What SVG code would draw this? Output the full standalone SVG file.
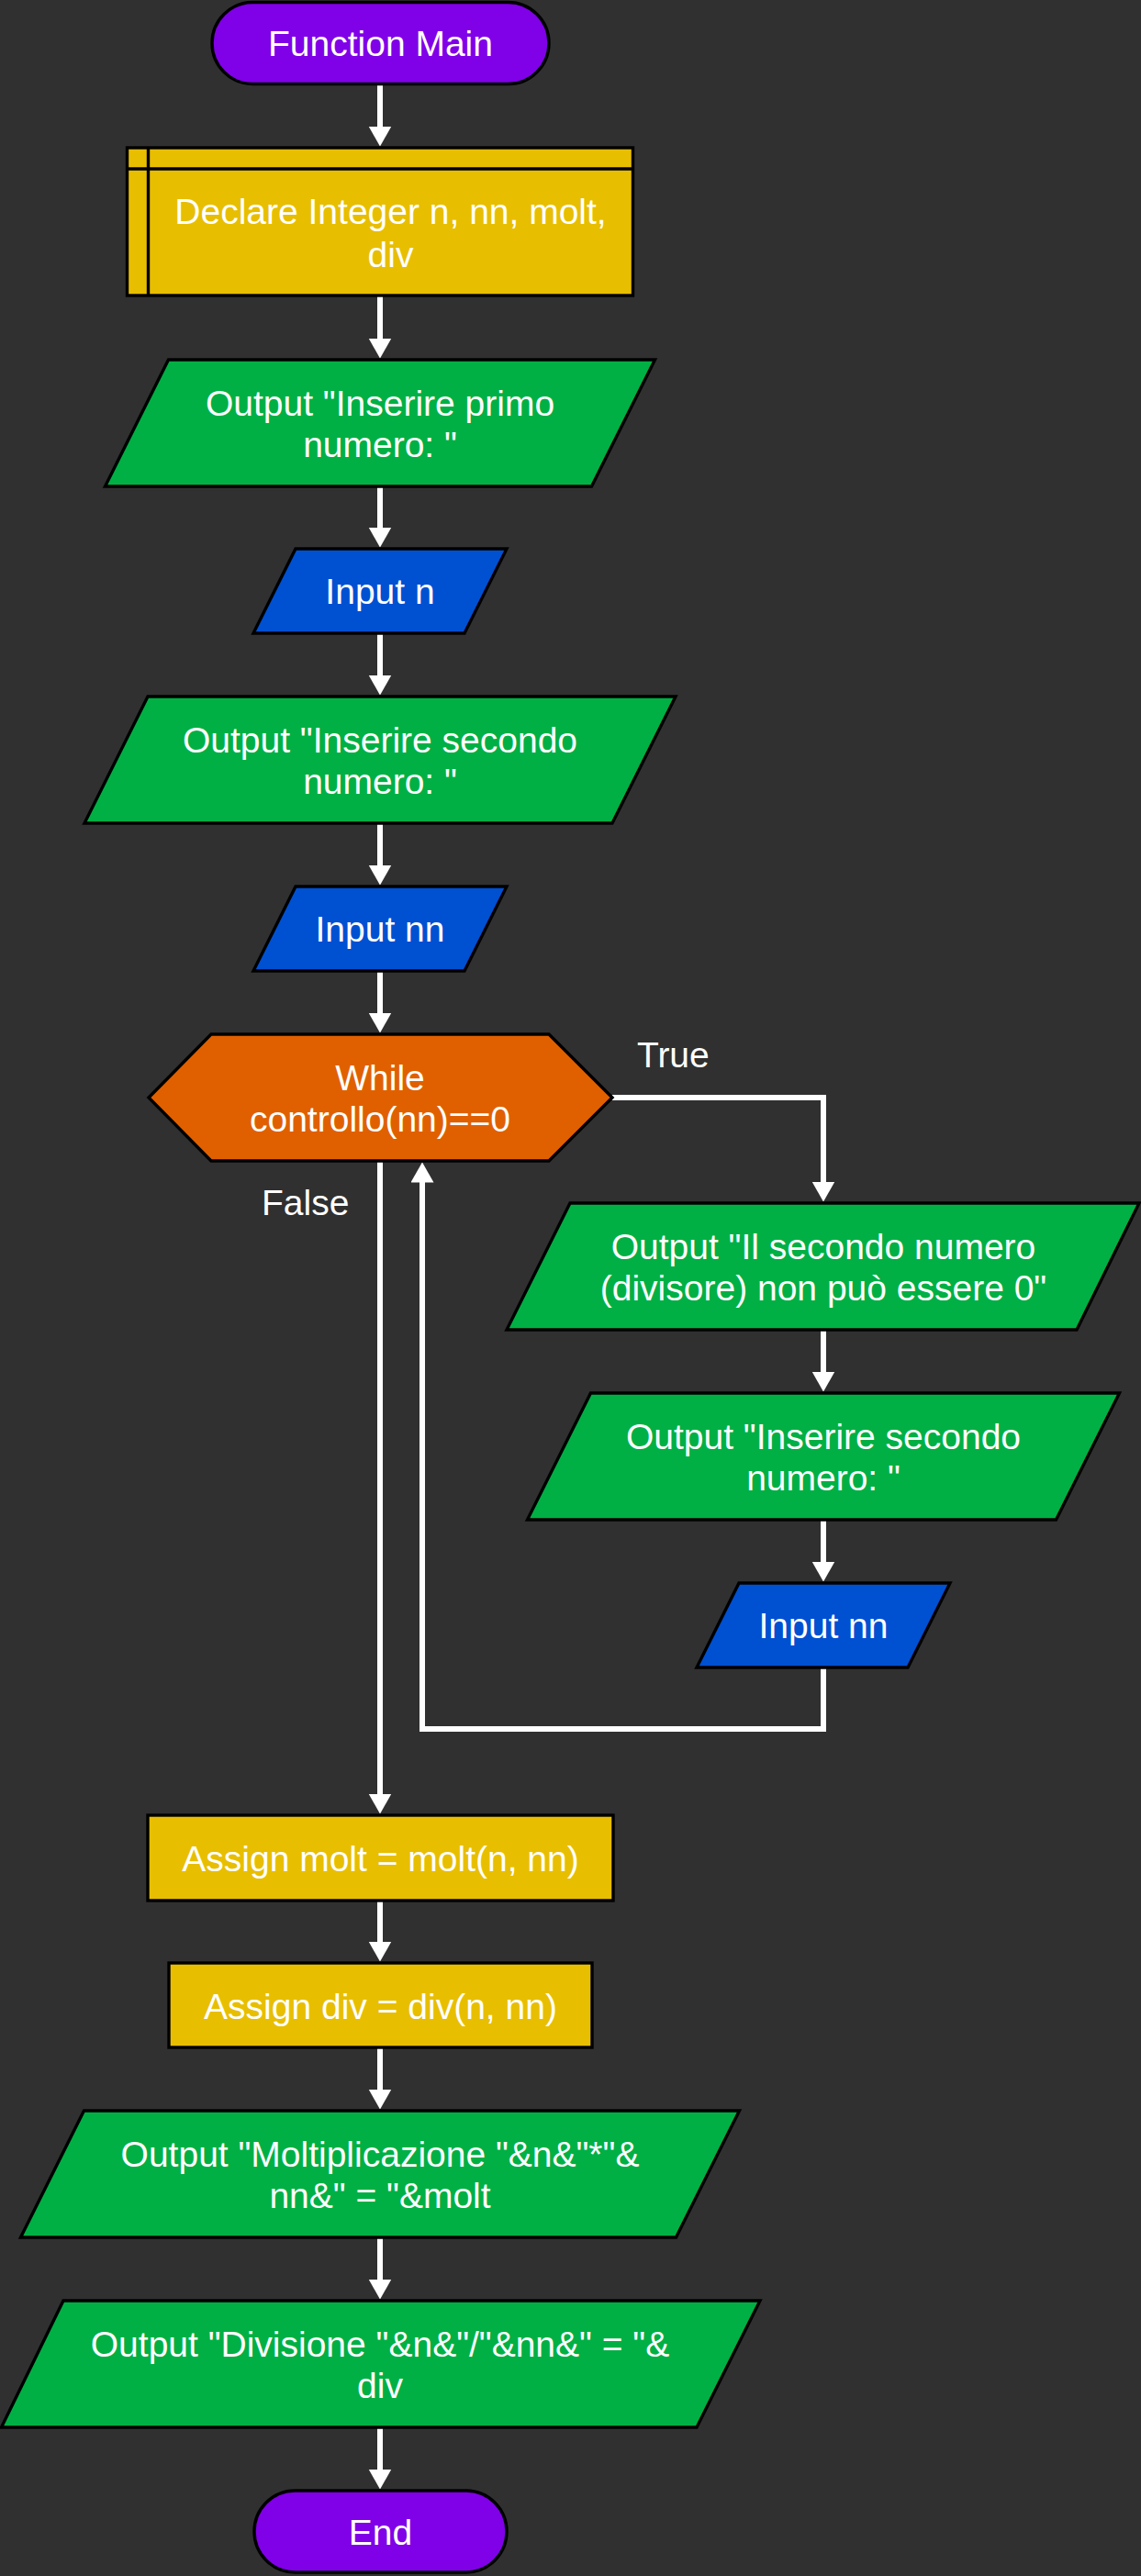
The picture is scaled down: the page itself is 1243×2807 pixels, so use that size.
<svg xmlns="http://www.w3.org/2000/svg" width="1243" height="2807" viewBox="0 0 1243 2807">
<defs>
<style>
.n{stroke:#000;stroke-width:3.4;stroke-linejoin:miter}
.term{fill:#8000E8}
.proc{fill:#E8BE00}
.out{fill:#00B044}
.inp{fill:#0050D2}
.loop{fill:#E06000}
text{font-family:"Liberation Sans",Arial,sans-serif;font-size:39px;fill:#fff}
.c{text-anchor:middle}
.e{fill:none;stroke:#fff;stroke-width:6}
</style>
<marker id="ah" markerUnits="userSpaceOnUse" markerWidth="24" markerHeight="26" refX="12" refY="12.5" orient="auto">
<path d="M0,0 L22,12.5 L0,25 z" fill="#fff"/>
</marker>
</defs>
<rect width="1243" height="2807" fill="#303030"/>
<g id="connectors">
<line class="e" x1="414" y1="92" x2="414" y2="149.5" marker-end="url(#ah)"/>
<line class="e" x1="414" y1="322" x2="414" y2="380.5" marker-end="url(#ah)"/>
<line class="e" x1="414" y1="530" x2="414" y2="586.5" marker-end="url(#ah)"/>
<line class="e" x1="414" y1="690" x2="414" y2="747.5" marker-end="url(#ah)"/>
<line class="e" x1="414" y1="897" x2="414" y2="954.5" marker-end="url(#ah)"/>
<line class="e" x1="414" y1="1058" x2="414" y2="1115.5" marker-end="url(#ah)"/>
<polyline class="e" points="667,1196 897,1196 897,1299.5" marker-end="url(#ah)"/>
<line class="e" x1="897" y1="1449" x2="897" y2="1506.5" marker-end="url(#ah)"/>
<line class="e" x1="897" y1="1656" x2="897" y2="1713.5" marker-end="url(#ah)"/>
<polyline class="e" points="897,1817 897,1884 460,1884 460,1276.5" marker-end="url(#ah)"/>
<line class="e" x1="414" y1="1265" x2="414" y2="1966.5" marker-end="url(#ah)"/>
<line class="e" x1="414" y1="2071" x2="414" y2="2127.5" marker-end="url(#ah)"/>
<line class="e" x1="414" y1="2231" x2="414" y2="2288.5" marker-end="url(#ah)"/>
<line class="e" x1="414" y1="2438" x2="414" y2="2495.5" marker-end="url(#ah)"/>
<line class="e" x1="414" y1="2645" x2="414" y2="2702.5" marker-end="url(#ah)"/>
<text x="694" y="1163">True</text>
<text x="285" y="1324">False</text>
</g>
<g id="start">
<rect class="n term" x="231" y="2.5" width="367" height="89" rx="44.5" ry="44.5"/>
<text class="c" x="414.5" y="61">Function Main</text>
</g>
<g id="declare">
<rect class="n proc" x="138.5" y="161" width="551" height="161"/>
<line x1="138.5" y1="184" x2="689.5" y2="184" stroke="#000" stroke-width="3.4"/>
<line x1="161.5" y1="161" x2="161.5" y2="322" stroke="#000" stroke-width="3.4"/>
<text class="c" x="425.5" y="244">Declare Integer n, nn, molt,</text>
<text class="c" x="425.5" y="291">div</text>
</g>
<g id="out1">
<polygon class="n out" points="183.5,392 713.5,392 644.5,530 114.5,530"/>
<text class="c" x="414" y="452.5">Output "Inserire primo</text>
<text class="c" x="414" y="497.5">numero: "</text>
</g>
<g id="in1">
<polygon class="n inp" points="322,598 552,598 506,690 276,690"/>
<text class="c" x="414" y="658">Input n</text>
</g>
<g id="out2">
<polygon class="n out" points="161,759 736,759 667,897 92,897"/>
<text class="c" x="414" y="819.5">Output "Inserire secondo</text>
<text class="c" x="414" y="864.5">numero: "</text>
</g>
<g id="in2">
<polygon class="n inp" points="322,966 552,966 506,1058 276,1058"/>
<text class="c" x="414" y="1026">Input nn</text>
</g>
<g id="while">
<polygon class="n loop" points="162,1196 230,1127 598,1127 667,1196 598,1265 230,1265"/>
<text class="c" x="414" y="1187.5">While</text>
<text class="c" x="414" y="1232.5">controllo(nn)==0</text>
</g>
<g id="out3">
<polygon class="n out" points="621,1311 1241,1311 1173,1449 552,1449"/>
<text class="c" x="897" y="1371.5">Output "Il secondo numero</text>
<text class="c" x="897" y="1416.5">(divisore) non può essere 0"</text>
</g>
<g id="out4">
<polygon class="n out" points="643.5,1518 1219.5,1518 1150.5,1656 574.5,1656"/>
<text class="c" x="897" y="1578.5">Output "Inserire secondo</text>
<text class="c" x="897" y="1623.5">numero: "</text>
</g>
<g id="in3">
<polygon class="n inp" points="805,1725 1035,1725 989,1817 759,1817"/>
<text class="c" x="897" y="1785">Input nn</text>
</g>
<g id="assign1">
<rect class="n proc" x="161" y="1978" width="507" height="93"/>
<text class="c" x="414.5" y="2038.5">Assign molt = molt(n, nn)</text>
</g>
<g id="assign2">
<rect class="n proc" x="184" y="2139" width="461" height="92"/>
<text class="c" x="414.5" y="2199.5">Assign div = div(n, nn)</text>
</g>
<g id="out5">
<polygon class="n out" points="91.5,2300 805.5,2300 736.5,2438 22.5,2438"/>
<text class="c" x="414" y="2360.5">Output "Moltiplicazione "&amp;n&amp;"*"&amp;</text>
<text class="c" x="414" y="2405.5">nn&amp;" = "&amp;molt</text>
</g>
<g id="out6">
<polygon class="n out" points="69,2507 828,2507 759,2645 1.5,2645"/>
<text class="c" x="414" y="2567.5">Output "Divisione "&amp;n&amp;"/"&amp;nn&amp;" = "&amp;</text>
<text class="c" x="414" y="2612.5">div</text>
</g>
<g id="end">
<rect class="n term" x="277" y="2714" width="275" height="89" rx="44.5" ry="44.5"/>
<text class="c" x="414.5" y="2772.5">End</text>
</g>
</svg>
